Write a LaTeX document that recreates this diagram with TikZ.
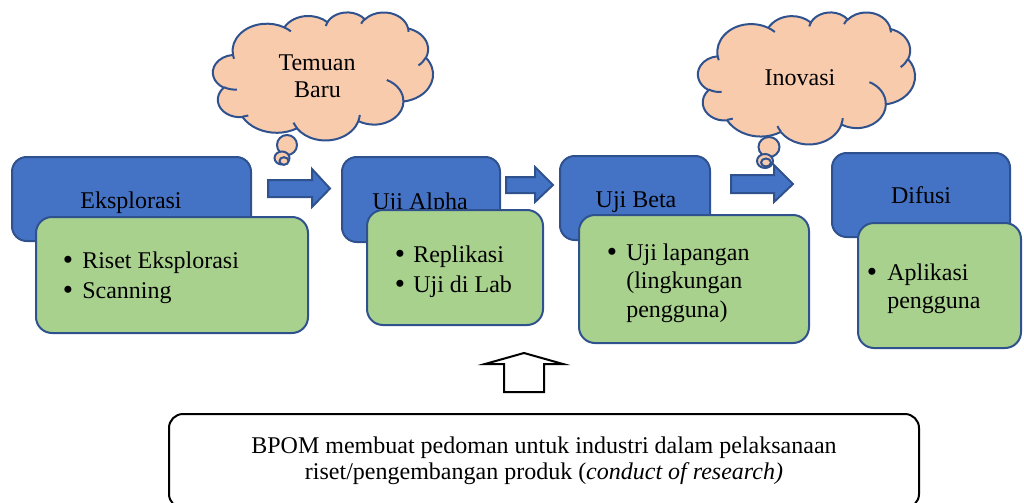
\documentclass[tikz,border=0pt]{standalone}
\usepackage{fontspec}
\setmainfont{LiberationSerif}[Extension=.ttf, UprightFont=*-Regular, ItalicFont=*-Italic, BoldFont=*-Bold]
\usetikzlibrary{fit}

\definecolor{boxblue}{HTML}{4472C4}
\definecolor{edgeblue}{HTML}{2F528F}
\definecolor{boxgreen}{HTML}{A9D18E}
\definecolor{cloudpeach}{HTML}{F8CBAD}

% elliptical arc given by radii, start angle (measured as a direction) and sweep
\newcommand\carc[4]{arc[x radius=#1, y radius=#2,
  start angle={atan2(#1*sin(#3),#2*cos(#3))},
  delta angle={mod(atan2(#1*sin(#3+#4),#2*cos(#3+#4))-atan2(#1*sin(#3),#2*cos(#3))+720,360)}]}

% cloud outline on a 432 x 432 grid
\newcommand\cloudoutline{(39,143.70)
  \carc{67.53}{91.90}{-190.4875}{123.7805}
  \carc{53.33}{72.67}{-144.1024}{89.9452}
  \carc{43.65}{59.45}{-145.8079}{99.7230}
  \carc{48.57}{65.95}{-130.9861}{117.2417}
  \carc{53.33}{72.73}{-78.7089}{109.0269}
  \carc{67.75}{92.20}{-46.2673}{130.2690}
  \carc{57.85}{78.67}{0.6250}{114.0333}
  \carc{67.52}{92.15}{22.4516}{115.1726}
  \carc{77.20}{105.43}{66.2426}{75.7110}
  \carc{43.60}{59.18}{-274.9421}{146.7356}
  \carc{43.45}{59.45}{-246.8285}{152.5189} -- cycle}

% inner folds between the puffs
\newcommand\cloudfolds{
  (46.93,261.77) \carc{43.45}{59.45}{86.7420}{26.4295}
  (69.28,348.99) \carc{43.60}{59.18}{73.6105}{11.4475}
  (164.78,390.90) \carc{67.52}{92.15}{137.6242}{14.0811}
  (288.27,347.51) \carc{67.52}{92.15}{6.4533}{15.9984}
  (341.29,229.54) \carc{57.85}{78.67}{-70.2924}{70.9174}
  (417.98,153.54) \carc{53.33}{72.73}{30.3180}{27.7515}
  (383.24,54.26) \carc{48.57}{65.95}{-13.7443}{14.8589}
  (290.78,39.52) \carc{48.57}{65.95}{-149.1815}{18.1954}
  (221.41,47.20) \carc{43.65}{59.45}{-163.4943}{17.6864}
  (140.00,51.92) \carc{67.53}{91.90}{-66.7070}{12.3194}
  (41.27,157.89) \carc{67.53}{91.90}{157.6544}{11.8582}}

\tikzset{
  every node/.style={font=\fontsize{18}{22}\selectfont, inner sep=0pt},
  bluebox/.style={draw=edgeblue, fill=boxblue, line width=1.5pt, rounded corners=11pt},
  greenbox/.style={draw=edgeblue, fill=boxgreen, line width=1.5pt, rounded corners=12pt},
  blockarrow/.style={draw=edgeblue, fill=boxblue, line width=1.5pt, line join=miter},
  cloudbody/.style={draw=edgeblue, fill=cloudpeach, line width=1.5pt},
  cloudfold/.style={draw=edgeblue, line width=1.5pt},
  hollowarrow/.style={draw=black, fill=white, line width=1.5pt, line join=miter},
  notebox/.style={draw=black, fill=white, line width=1.5pt, rounded corners=10.5pt},
  ctext/.style={anchor=base},
  ltext/.style={anchor=base west},
  dot/.style={anchor=base, font=\fontsize{22}{22}\selectfont, yshift=-1pt},
}

\begin{document}
\begin{tikzpicture}[x=0.75pt, y=-0.75pt]
\useasboundingbox (0,0) rectangle (1024,503);
\clip (0,0) rectangle (1024,503);

% thought clouds
\begin{scope}[shift={(213,12)}, xscale=220/432, yscale=128/432]
  \path[cloudbody] \cloudoutline;
  \path[cloudfold] \cloudfolds;
\end{scope}
\draw[cloudbody] (287,145) ellipse [x radius=10, y radius=10];
\draw[cloudbody] (282,158) ellipse [x radius=7.5, y radius=6.5];
\draw[cloudbody] (284,161) ellipse [x radius=4.5, y radius=3.8];
\node[ctext] (temuan) at (317,70) {Temuan};
\node[ctext] (baru) at (317.5,98) {Baru};

\begin{scope}[shift={(698,12)}, xscale=217/432, yscale=132/432]
  \path[cloudbody] \cloudoutline;
  \path[cloudfold] \cloudfolds;
\end{scope}
\draw[cloudbody] (769,147) ellipse [x radius=10.5, y radius=10];
\draw[cloudbody] (765,161) ellipse [x radius=8, y radius=7];
\draw[cloudbody] (766,162.5) ellipse [x radius=5, y radius=4];
\node[ctext] (inovasi) at (800,85) {Inovasi};

% stage headers
\node[bluebox, fit={(12,157) (251,241)}] (b1) {};
\node[ctext] (t1) at (131,208) {Eksplorasi};
\node[bluebox, fit={(342,157) (500,242)}] (b2) {};
\node[ctext] (t2) at (420,209) {Uji Alpha};
\node[bluebox, fit={(560,156) (710,240)}] (b3) {};
\node[ctext] (t3) at (636,207) {Uji Beta};
\node[bluebox, fit={(832,153) (1010,237)}] (b4) {};
\node[ctext] (t4) at (921,203) {Difusi};

% stage details
\node[greenbox, fit={(36,217) (308,333)}] (g1) {};
\node[dot] (g1d1) at (68,268) {•};
\node[ltext] (g1l1) at (82,268) {Riset Eksplorasi};
\node[dot] (g1d2) at (68,298) {•};
\node[ltext] (g1l2) at (82,298) {Scanning};

\node[greenbox, fit={(367,210) (543,325)}] (g2) {};
\node[dot] (g2d1) at (400,262) {•};
\node[ltext] (g2l1) at (413,262) {Replikasi};
\node[dot] (g2d2) at (400,292) {•};
\node[ltext] (g2l2) at (413,292) {Uji di Lab};

\node[greenbox, fit={(579,215) (809,343)}] (g3) {};
\node[dot] (g3d1) at (612,260) {•};
\node[ltext] (g3l1) at (626,260) {Uji lapangan};
\node[ltext] (g3l2) at (626,288) {(lingkungan};
\node[ltext] (g3l3) at (626,317) {pengguna)};

\node[greenbox, fit={(858,223) (1021,348)}] (g4) {};
\node[dot] (g4d1) at (872,280) {•};
\node[ltext] (g4l1) at (887,280) {Aplikasi};
\node[ltext] (g4l2) at (887,308) {pengguna};

% flow arrows between stages
\draw[blockarrow] (268,180) -- (312,180) -- (312,169) -- (330,188.5) -- (312,207) -- (312,197) -- (268,197) -- cycle;
\draw[blockarrow] (506,177) -- (535,177) -- (535,167) -- (553,185) -- (535,202) -- (535,193) -- (506,193) -- cycle;
\draw[blockarrow] (731,175) -- (774,175) -- (774,165) -- (793,184) -- (774,202) -- (774,193) -- (731,193) -- cycle;

% guideline support
\draw[hollowarrow] (524,353) -- (563,364) -- (544,364) -- (544,392) -- (504,392) -- (504,364) -- (485,364) -- cycle;
\node[notebox, fit={(169,414) (919,508)}] (bpom) {};
\node[ctext] (bpom1) at (544,453) {BPOM membuat pedoman untuk industri dalam pelaksanaan};
\node[ctext] (bpom2) at (544,479) {riset/pengembangan produk (\textit{conduct of research)}};
\end{tikzpicture}
\end{document}
